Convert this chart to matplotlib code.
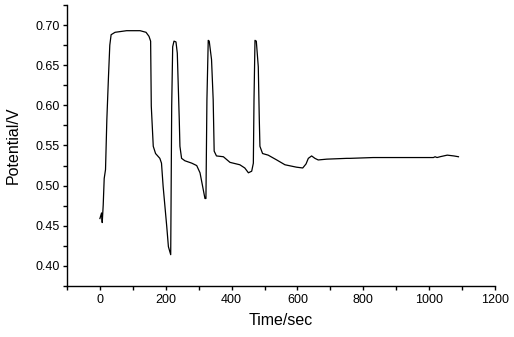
import matplotlib
matplotlib.use("Agg")
import matplotlib.pyplot as plt
from matplotlib.ticker import MultipleLocator, FormatStrFormatter

plt.rcParams['font.family'] = ['Liberation Sans', 'DejaVu Sans']

time_sec = [0, 5, 7, 10, 13, 17, 21, 26, 30, 34, 46, 81, 122, 140, 149, 154, 156, 162, 169,
            182, 187, 192, 203, 208, 215, 218, 221, 225, 231, 235, 241, 243, 248, 258, 279,
            294, 304, 312, 319, 322, 325, 329, 332, 339, 344, 347, 354, 375, 395, 425, 440,
            451, 461, 466, 468, 471, 475, 481, 484, 486, 494, 511, 537, 562, 597, 616, 626,
            633, 643, 653, 663, 689, 750, 760, 830, 1013, 1018, 1024, 1033, 1055, 1075, 1089]
potential = [0.459, 0.466, 0.454, 0.476, 0.509, 0.520, 0.582, 0.636, 0.675, 0.688, 0.691,
             0.693, 0.693, 0.691, 0.686, 0.680, 0.599, 0.549, 0.540, 0.534, 0.528, 0.499,
             0.449, 0.424, 0.414, 0.599, 0.673, 0.680, 0.679, 0.665, 0.582, 0.549, 0.534,
             0.531, 0.528, 0.525, 0.516, 0.499, 0.484, 0.484, 0.607, 0.681, 0.680, 0.657,
             0.607, 0.543, 0.537, 0.536, 0.529, 0.526, 0.522, 0.516, 0.518, 0.528, 0.607,
             0.681, 0.680, 0.648, 0.584, 0.549, 0.540, 0.538, 0.532, 0.526, 0.523, 0.522,
             0.527, 0.534, 0.537, 0.534, 0.532, 0.533, 0.534, 0.534, 0.535, 0.535, 0.536,
             0.535, 0.536, 0.538, 0.537, 0.536]

fig = plt.figure(figsize=(5.14, 3.37), dpi=100)
ax = fig.add_axes([67/514, 51/337, 428/514, 281/337])
ax.plot(time_sec, potential, color='black', linewidth=0.9)

ax.set_xlim(-100, 1200)
ax.set_ylim(0.375, 0.725)
ax.xaxis.set_major_locator(MultipleLocator(200))
ax.xaxis.set_minor_locator(MultipleLocator(100))
ax.yaxis.set_major_locator(MultipleLocator(0.05))
ax.yaxis.set_minor_locator(MultipleLocator(0.025))
ax.yaxis.set_major_formatter(FormatStrFormatter('%.2f'))

for s in ['top', 'right']:
    ax.spines[s].set_visible(False)
for s in ['left', 'bottom']:
    ax.spines[s].set_linewidth(1.0)

ax.tick_params(which='both', direction='out', width=1, labelsize=9, colors='black')
ax.tick_params(axis='x', which='both', length=3, pad=2.5)
ax.tick_params(axis='y', which='both', length=3, pad=2)
ax.set_xlabel('Time/sec', fontsize=11.5, labelpad=5)
ax.set_ylabel('Potential/V', fontsize=11.5, labelpad=11)

fig.savefig('out.png', dpi=100)
